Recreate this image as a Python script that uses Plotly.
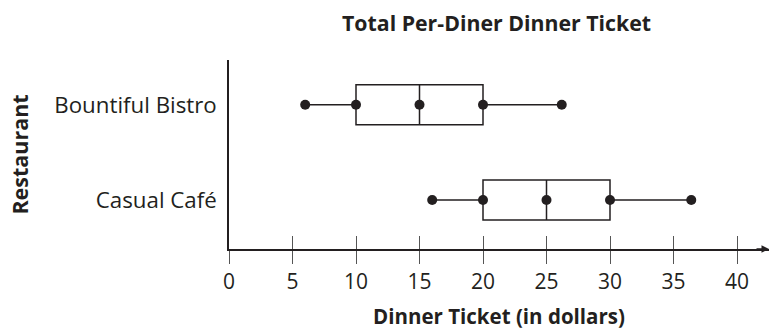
import plotly.graph_objects as go

restaurants = ["Bountiful Bistro", "Casual Café"]
mins = [6, 16]
q1s = [10, 20]
medians = [15, 25]
q3s = [20, 30]
maxs = [26.2, 36.4]
x_ticks = [0, 5, 10, 15, 20, 25, 30, 35, 40]

FONT = "Open Sans"
INK = "#231f20"

fig = go.Figure()
for i, r in enumerate(restaurants):
    fig.add_trace(go.Box(
        y=[r], q1=[q1s[i]], median=[medians[i]], q3=[q3s[i]],
        lowerfence=[mins[i]], upperfence=[maxs[i]],
        orientation="h", width=0.42, whiskerwidth=0,
        line=dict(color=INK, width=1.5), fillcolor="white",
        boxpoints=False, hoverinfo="skip", showlegend=False,
    ))
    fig.add_trace(go.Scatter(
        x=[mins[i], q1s[i], medians[i], q3s[i], maxs[i]], y=[r] * 5,
        mode="markers", marker=dict(size=10, color=INK),
        hoverinfo="skip", showlegend=False, cliponaxis=False,
    ))

xr = [0, 42.52]
fig.update_layout(
    width=771, height=330,
    margin=dict(l=229, r=2, t=60, b=81),
    paper_bgcolor="white", plot_bgcolor="white",
    font=dict(family=FONT, size=21, color=INK),
    title=dict(text="<b>Total Per-Diner Dinner Ticket</b>", x=0.644, xanchor="center",
               y=0.93, yanchor="middle", font=dict(size=21.3)),
    xaxis=dict(range=xr, tickmode="array", tickvals=x_ticks, ticktext=[str(t) for t in x_ticks],
               showline=True, linecolor=INK, linewidth=1.5, showgrid=False, zeroline=False,
               ticks="outside", ticklen=13, tickwidth=1, tickcolor="#555",
               ticklabelstandoff=0, tickfont=dict(size=21),
               title=dict(text="<b>Dinner Ticket (in dollars)</b>", standoff=17, font=dict(size=20.5))),
    xaxis2=dict(range=xr, overlaying="x", matches="x", side="bottom", anchor="y",
                tickmode="array", tickvals=x_ticks, showticklabels=False,
                ticks="inside", ticklen=13, tickwidth=1, tickcolor="#555",
                showline=False, showgrid=False, zeroline=False),
    yaxis=dict(type="category", categoryorder="array", categoryarray=list(reversed(restaurants)),
               range=[-0.514, 1.469], showline=True, linecolor=INK, linewidth=1.5,
               showgrid=False, zeroline=False, ticks="", ticklabelstandoff=6,
               tickfont=dict(size=22.3),
               title=dict(text="<b>Restaurant</b>", standoff=20, font=dict(size=21.5))),
    annotations=[dict(x=1.0, y=0, xref="paper", yref="paper", ax=-14, ay=0,
                      showarrow=True, arrowhead=2, arrowsize=1, arrowwidth=1.5,
                      arrowcolor=INK, text="")],
)
fig.add_trace(go.Scatter(x=[0], y=[restaurants[0]], xaxis="x2", mode="markers",
                         marker=dict(opacity=0), hoverinfo="skip", showlegend=False))
fig.write_html("out.html", config={"displayModeBar": False},
               post_script="document.body.style.margin='0';")
